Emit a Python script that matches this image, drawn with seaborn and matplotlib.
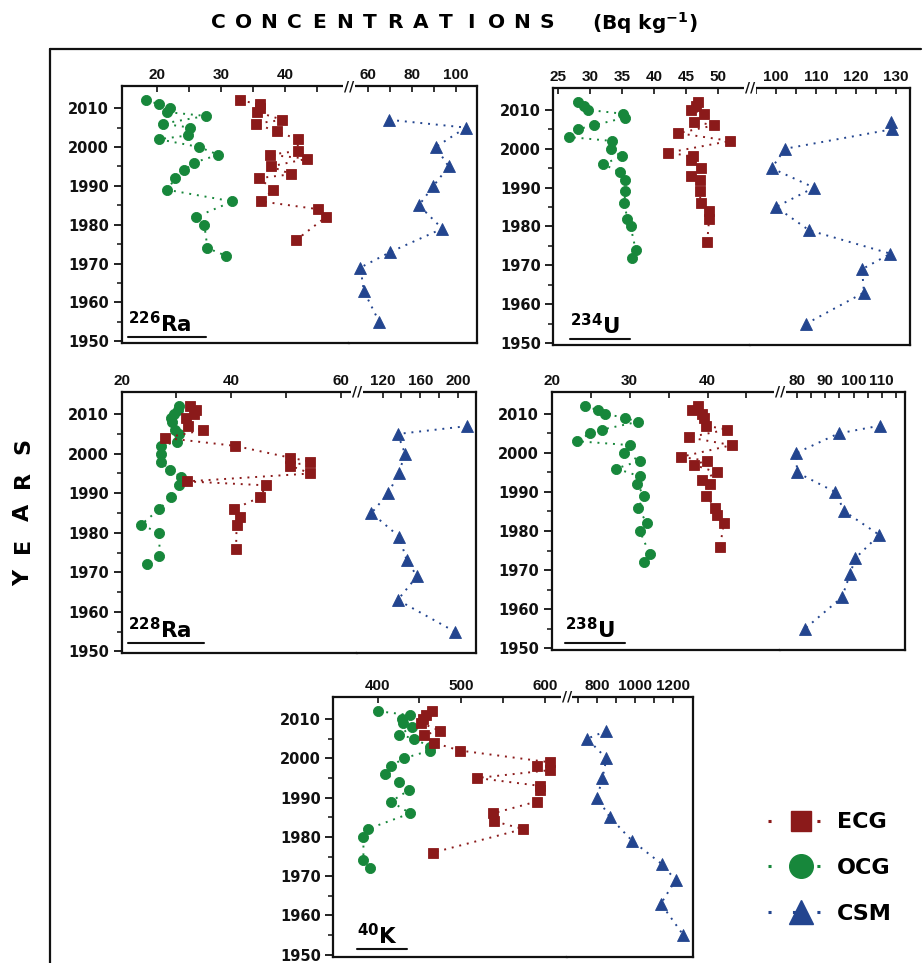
import matplotlib
matplotlib.use("Agg")
import matplotlib.pyplot as plt
from matplotlib.lines import Line2D
import seaborn as sns
import pandas as pd

# ---------------- data ----------------
YEARS_ECG = [2012, 2011, 2010, 2009, 2007, 2006, 2004, 2002, 1999, 1998, 1997,
             1995, 1993, 1992, 1989, 1986, 1984, 1982, 1976]
YEARS_OCG = [2012, 2011, 2010, 2009, 2008, 2006, 2005, 2003, 2002, 2000, 1998,
             1996, 1994, 1992, 1989, 1986, 1982, 1980, 1974, 1972]
YEARS_CSM = [2007, 2005, 2000, 1995, 1990, 1985, 1979, 1973, 1969, 1963, 1955]

ra226_ecg = [33.0, 36.1, 36.1, 35.7, 39.6, 35.4, 38.7, 42.0, 42.0, 37.6, 43.5,
             37.8, 41.0, 36.0, 38.1, 36.3, 45.2, 46.4, 41.7]
ra226_ocg = [18.3, 20.4, 22.0, 21.5, 27.6, 20.9, 25.2, 24.9, 20.3, 26.6, 29.6,
             25.8, 24.3, 22.9, 21.6, 31.8, 26.1, 27.4, 27.9, 30.8]
ra226_csm = [69.8, 104.5, 90.8, 96.7, 89.8, 83.2, 93.8, 70.3, 56.7, 58.2, 65.2]

u234_ecg = [46.9, 46.5, 45.8, 47.8, 46.3, 49.3, 43.8, 51.9, 42.2, 46.0, 45.8,
            47.3, 45.7, 47.1, 47.1, 47.3, 48.6, 48.6, 48.3]
u234_ocg = [28.1, 29.0, 29.6, 35.1, 35.4, 30.5, 28.0, 26.7, 33.4, 33.2, 34.9,
            32.0, 34.7, 35.5, 35.5, 35.3, 35.8, 36.3, 37.1, 36.6]
u234_csm = [128.8, 129.0, 102.3, 98.9, 109.5, 100.0, 108.3, 128.6, 121.5, 122.0, 107.6]

ra228_ecg = [32.5, 33.6, 33.3, 31.8, 32.2, 34.9, 27.9, 40.7, 50.8, 54.5, 50.8,
             54.5, 31.9, 46.4, 45.3, 40.5, 41.6, 41.0, 40.9]
ra228_ocg = [30.5, 30.2, 29.5, 29.1, 29.2, 29.8, 30.4, 30.1, 27.1, 27.1, 27.1,
             28.8, 30.9, 30.4, 29.0, 26.9, 23.5, 26.9, 26.9, 24.7]
ra228_csm = [209.7, 136.0, 143.8, 137.0, 126.0, 108.3, 137.7, 145.5, 156.5, 136.0, 196.2]

u238_ecg = [38.8, 38.0, 39.3, 39.6, 39.8, 42.5, 37.6, 43.1, 36.6, 39.9, 38.2,
            41.2, 39.3, 40.3, 39.8, 41.0, 41.2, 42.1, 41.6]
u238_ocg = [24.3, 25.9, 26.9, 29.4, 31.1, 26.5, 24.9, 23.3, 30.1, 29.3, 31.3,
            28.3, 31.3, 30.9, 31.9, 31.1, 32.2, 31.3, 32.6, 31.9]
u238_csm = [109.4, 94.7, 79.8, 80.0, 93.5, 96.8, 109.1, 100.6, 98.8, 95.9, 82.9]

k40_ecg = [465, 458, 454, 452, 475, 455, 467, 498, 606, 590, 606,
           519, 594, 594, 590, 538, 539, 574, 466]
k40_ocg = [401, 439, 429, 430, 441, 426, 444, 462, 463, 431, 416,
           409, 425, 438, 416, 439, 388, 383, 383, 391]
k40_csm = [849, 747, 849, 828, 800, 867, 984, 1142, 1212, 1135, 1253]

SERIES = ["ECG", "OCG", "CSM"]
YEAR_TICKS = [1950, 1960, 1970, 1980, 1990, 2000, 2010]
YEAR_MINOR = [1955, 1965, 1975, 1985, 1995, 2005]

# ---------------- style ----------------
sns.set_theme(style="ticks")
plt.rcParams["font.family"] = ["DejaVu Sans"]
plt.rcParams["mathtext.default"] = "regular"
plt.rcParams["axes.facecolor"] = "white"
plt.rcParams["figure.facecolor"] = "white"
plt.rcParams["text.color"] = "black"

C_ECG = "#8b1a1a"
C_OCG = "#17873b"
C_CSM = "#23458f"
NARROW = ["Liberation Sans Narrow", "Liberation Sans", "DejaVu Sans"]
LINE_STYLE = (0, (1, 3))
INK = "#111111"

W, H = 923, 963
fig = plt.figure(figsize=(W / 100, H / 100), dpi=100)


def rect(x0, x1, y0, y1):
    return [x0 / W, 1 - y1 / H, (x1 - x0) / W, (y1 - y0) / H]


def fxy(x, y):
    return (x / W, 1 - y / H)


def draw(ax, vals, years, color, marker, ms):
    df = pd.DataFrame({"value": vals, "year": years})
    sns.lineplot(data=df, x="value", y="year", ax=ax, sort=False, estimator=None,
                 color=color, marker=marker, markersize=ms, markeredgecolor=color,
                 markeredgewidth=0.6, linewidth=1.4, linestyle=LINE_STYLE,
                 legend=False)
    ax.set_xlabel("")
    ax.set_ylabel("")


def panel(iso, mass, ecg, ocg, csm, box, xlimL, ticksL, minorL, xlimR, ticksR, minorR,
          lab):
    x0, xb, x1, y0, y1 = box
    axL = fig.add_axes(rect(x0, xb, y0, y1))
    axR = fig.add_axes(rect(xb, x1, y0, y1), sharey=axL)
    draw(axL, ocg, YEARS_OCG, C_OCG, "o", 7.3)
    draw(axL, ecg, YEARS_ECG, C_ECG, "s", 7.3)
    draw(axR, csm, YEARS_CSM, C_CSM, "^", 8.3)

    axL.set_ylim(1949.5, 2015.7)
    axL.set_yticks(YEAR_TICKS)
    axL.set_yticks(YEAR_MINOR, minor=True)
    axL.set_yticklabels([str(t) for t in YEAR_TICKS], fontweight="bold", fontsize=10.5)
    axL.tick_params(axis="y", which="major", direction="out", length=6, width=1.3,
                    colors=INK, pad=3)
    axL.tick_params(axis="y", which="minor", direction="out", length=3.5, width=1.1,
                    colors=INK)
    axR.tick_params(axis="y", which="both", left=False, right=False,
                    labelleft=False, labelright=False)

    for ax, lim, tk, mn in ((axL, xlimL, ticksL, minorL), (axR, xlimR, ticksR, minorR)):
        ax.set_xlim(*lim)
        ax.xaxis.tick_top()
        ax.set_xticks(tk)
        ax.set_xticks(mn, minor=True)
        ax.set_xticklabels([str(t) for t in tk], fontfamily=NARROW,
                           fontweight="bold", fontsize=11)
        ax.tick_params(axis="x", which="both", direction="in", length=4, width=1.2,
                       colors=INK, pad=3)
        for s in ax.spines.values():
            s.set_linewidth(1.6)
            s.set_color(INK)
    axL.spines["right"].set_visible(False)
    axR.spines["left"].set_visible(False)

    # axis break mark
    fig.text(xb / W, 1 - y0 / H, "//", ha="center", va="center", fontsize=10,
             fontweight="bold", color=INK,
             bbox=dict(facecolor="white", edgecolor="none", pad=0.3))

    # panel label with underline
    lx, ly, lw = lab
    fig.text(lx / W, 1 - ly / H, "$^{%s}$%s" % (mass, iso), ha="left",
             va="baseline", fontsize=15.5, fontweight="bold", color="black")
    fig.add_artist(Line2D([lx / W, (lx + lw) / W], [1 - (ly + 5) / H] * 2,
                          color=INK, lw=1.5, transform=fig.transFigure))


panel("Ra", "226", ra226_ecg, ra226_ocg, ra226_csm,
      (121.7, 349, 476.7, 86, 343.3),
      (14.5, 50), [20, 30, 40], [25, 35, 45],
      (51.5, 109.4), [60, 80, 100], [70, 90],
      (128, 332, 78))
panel("U", "234", u234_ecg, u234_ocg, u234_csm,
      (553.3, 750, 910, 87.7, 345),
      (24.2, 55), [25, 30, 35, 40, 45, 50], [],
      (93.5, 133.5), [100, 110, 120, 130], [95, 105, 115, 125],
      (570, 334, 60))
panel("Ra", "228", ra228_ecg, ra228_ocg, ra228_csm,
      (121.7, 357, 475.7, 391.7, 653.3),
      (20, 63), [20, 40, 60], [30, 50],
      (93, 218.4), [120, 160, 200], [140, 180],
      (128, 638, 76))
panel("U", "238", u238_ecg, u238_ocg, u238_csm,
      (551.7, 780, 905, 391.7, 650),
      (20, 49.3), [20, 30, 40], [25, 35, 45],
      (74, 118.2), [80, 90, 100, 110], [85, 95, 105, 115],
      (565, 638, 60))
panel("K", "40", k40_ecg, k40_ocg, k40_csm,
      (333.3, 566.7, 692.7, 696.7, 956.7),
      (347, 626), [400, 500, 600], [450, 550],
      (640, 1302), [800, 1000, 1200], [700, 900, 1100],
      (357, 944, 50))

# outer frame lines (top and left)
fig.add_artist(Line2D([50 / W, 921 / W], [1 - 49 / H] * 2, color=INK, lw=1.6,
                      transform=fig.transFigure))
fig.add_artist(Line2D([50 / W, 50 / W], [1 - 49 / H, 0], color=INK, lw=1.6,
                      transform=fig.transFigure))

# title with spaced letters
title_word = "CONCENTRATIONS"
for i, ch in enumerate(title_word):
    fig.text((218 + i * 25.3) / W, 1 - 23 / H, ch, ha="center", va="center",
             fontsize=14.5, fontweight="bold", color="black")
fig.text(645 / W, 1 - 23 / H, "(Bq kg$^{-1}$)", ha="center", va="center",
         fontsize=14.5, fontweight="bold", color="black")

# vertical YEARS label with spaced letters
for i, ch in enumerate("YEARS"):
    fig.text(23 / W, 1 - (578 - i * 33) / H, ch, ha="center", va="center",
             rotation=90, fontsize=16, fontweight="bold", color="black")

# legend
handles = [
    Line2D([], [], color=C_ECG, marker="s", markersize=15, linestyle=(0, (1, 7)), lw=2.2),
    Line2D([], [], color=C_OCG, marker="o", markersize=17, linestyle=(0, (1, 7)), lw=2.2),
    Line2D([], [], color=C_CSM, marker="^", markersize=17, linestyle=(0, (1, 7)), lw=2.2),
]
leg = fig.legend(handles, SERIES, loc="center left", bbox_to_anchor=fxy(768, 868),
                 frameon=False, prop={"weight": "bold", "size": 16}, handlelength=3.0,
                 handletextpad=0.1, labelspacing=1.15, borderaxespad=0, borderpad=0)
for t in leg.get_texts():
    t.set_color("black")

fig.savefig("out.png", dpi=100, facecolor="white")
